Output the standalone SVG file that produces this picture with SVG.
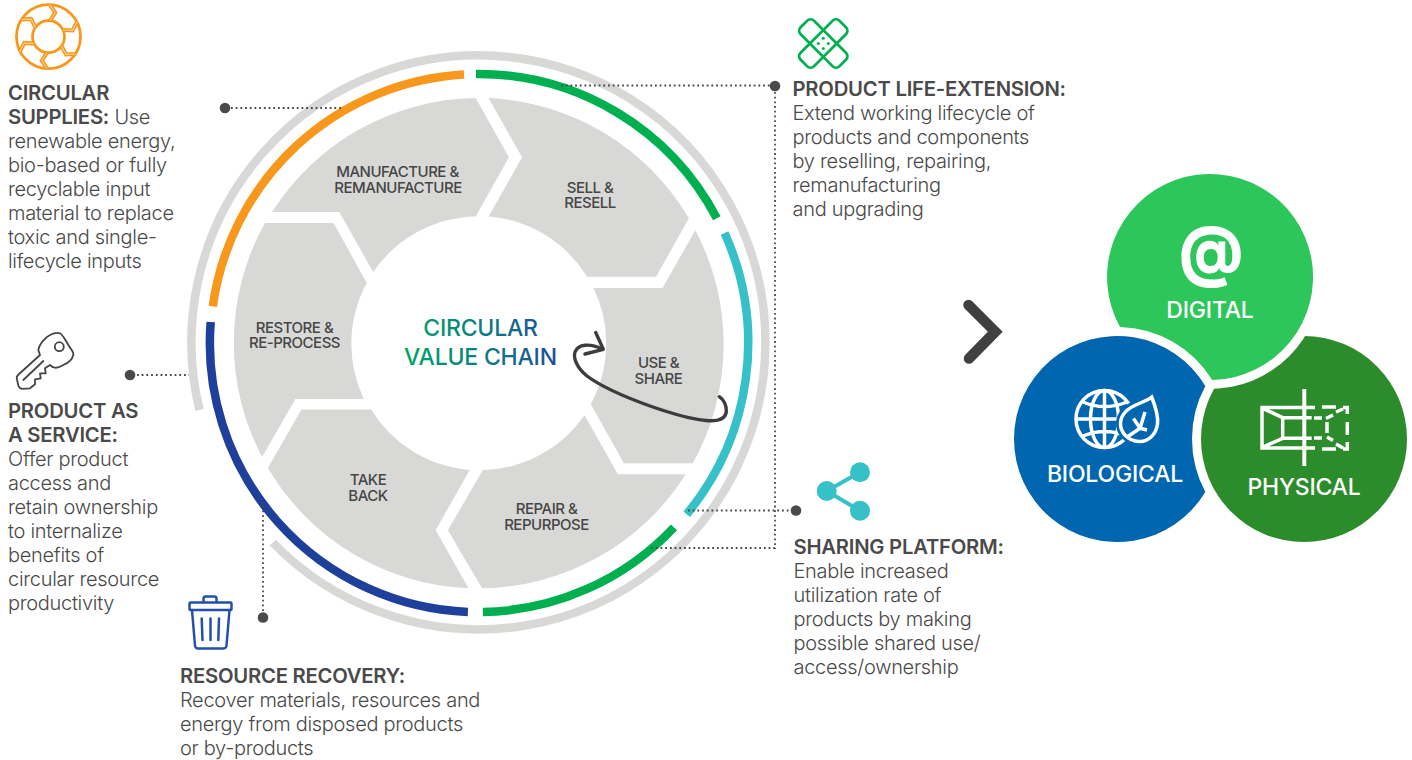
<svg xmlns="http://www.w3.org/2000/svg" width="1412" height="760" viewBox="0 0 1412 760">
<style>
text{font-family:"Inter","Liberation Sans",sans-serif;fill:#4a4a4a}
.b{font-size:20px;font-weight:300;letter-spacing:-.3px}
.h{font-weight:600;letter-spacing:-.25px;font-size:20.300px}
.s{font-size:15px;font-weight:500;text-anchor:middle;letter-spacing:-.48px;fill:#464646}
.seg{fill:#d8d8d6}
.ring{fill:none;stroke-width:8.5}
.dot{fill:none;stroke:#4a4a4a;stroke-width:1.8;stroke-dasharray:1.8 2.9}
.pt{fill:#4a4a4a}
.w{fill:#fff;font-size:23px;font-weight:500;text-anchor:middle;letter-spacing:-.2px}
.wl{fill:none;stroke:#fff;stroke-width:3.500}
.ic{fill:none;stroke-linejoin:round;stroke-linecap:round}
</style>
<defs>
<linearGradient id="cg" gradientUnits="userSpaceOnUse" x1="405" y1="0" x2="556" y2="0">
<stop offset="0" stop-color="#00a566"/><stop offset=".5" stop-color="#0b7f83"/><stop offset="1" stop-color="#1f4e9b"/>
</linearGradient>
<g id="chev"><path d="M1.500 -32 L6.700 -24 L1.500 -16" fill="none" stroke="#f7981d" stroke-width="4"/><path d="M1.500 -32 L6.700 -24 L1.500 -16" fill="none" stroke="#fcd9a5" stroke-width="1"/></g>
</defs>

<g id="rings">
<path class="ring" stroke="#d8d8d6" stroke-width="9" d="M199.500 410A287 287 0 1 1 272.800 542.600"/>
<path class="ring" stroke="#f7981d" d="M212.800 306.400A269 269 0 0 1 464 74.500"/>
<path class="ring" stroke="#00b050" d="M476 74A269 269 0 0 1 716.800 218.300"/>
<path class="ring" stroke="#36c0c7" d="M724.600 233A269 269 0 0 1 686.700 514.300"/>
<path class="ring" stroke="#00b050" d="M674 527.300A269 269 0 0 1 482.900 612"/>
<path class="ring" stroke="#1e3f9a" d="M467.900 612A269 269 0 0 1 210.700 322"/>
</g>

<g id="node-manufacture"><path class="seg" d="M272.100 212A245 245 0 0 1 475.700 98.100L508.900 157.300L475.700 216.500A127 127 0 0 0 373.200 272L339.300 212Z"/>
<text class="s"><tspan x="397.500" y="177">MANUFACTURE &amp;</tspan><tspan x="398" y="192.500">REMANUFACTURE</tspan></text></g>
<g id="node-sell"><path class="seg" d="M488.600 98.100A245 245 0 0 1 688.900 218.300L656 276.800L587.100 276.800A127 127 0 0 0 488.600 216.500L522.100 157.300Z"/>
<text class="s"><tspan x="590" y="192.500">SELL &amp;</tspan><tspan x="590" y="207.500">RESELL</tspan></text></g>
<g id="node-use"><path class="seg" d="M695.400 230.200A245 245 0 0 1 692.900 463.200L623.900 463.200L590.700 404A127 127 0 0 0 593.600 287.900L662.500 287.900Z"/>
<text class="s"><tspan x="658.500" y="368">USE &amp;</tspan><tspan x="658.500" y="383.500">SHARE</tspan></text></g>
<g id="node-repair"><path class="seg" d="M685.700 474.300A245 245 0 0 1 482.100 588.300L447.900 530.200L482.900 469.900A127 127 0 0 0 584.600 415.200L617.900 474.300Z"/>
<text class="s"><tspan x="546.500" y="513.500">REPAIR &amp;</tspan><tspan x="546.500" y="529.500">REPURPOSE</tspan></text></g>
<g id="node-takeback"><path class="seg" d="M468.600 588.300A245 245 0 0 1 267.900 468L301.400 409.600L371.100 409.600A127 127 0 0 0 469.600 469.900L435.700 530.200Z"/>
<text class="s"><tspan x="368" y="484.500">TAKE</tspan><tspan x="368" y="500.500">BACK</tspan></text></g>
<g id="node-restore"><path class="seg" d="M262.100 457A245 245 0 0 1 265 223.100L333.600 223.100L366.800 283.100A127 127 0 0 0 363.900 398.900L295.400 398.900Z"/>
<text class="s"><tspan x="294.500" y="332.500">RESTORE &amp;</tspan><tspan x="294.500" y="347.500">RE-PROCESS</tspan></text></g>

<g id="node-center">
<text x="480.500" y="336" text-anchor="middle" font-size="23" font-weight="500" letter-spacing="-.2" style="fill:url(#cg)">CIRCULAR</text>
<text x="480.500" y="365" text-anchor="middle" font-size="23" font-weight="500" letter-spacing="-.2" style="fill:url(#cg)">VALUE CHAIN</text>
</g>

<g id="connectors">
<path class="dot" d="M231 108H341"/><circle class="pt" cx="225" cy="108" r="5.300"/>
<path class="dot" d="M561 85.500H770M775 92V548H650"/><circle class="pt" cx="775" cy="86" r="5.300"/>
<path class="dot" d="M688 510.500H790"/><circle class="pt" cx="796" cy="510.500" r="5.300"/>
<path class="dot" d="M137 375H189"/><circle class="pt" cx="130" cy="375" r="5.300"/>
<path class="dot" d="M263 611V502"/><circle class="pt" cx="263" cy="617.500" r="5.300"/>
<g id="use-loop" class="ic" stroke="#3c3c3c" stroke-width="3.400">
<path d="M719.300 396.700C724 400 726.500 406 726.300 412C725 420 716 421.500 706 420.500C690 419 670 413 650 406C625 397 603 388 587 376C577 368 573 358 575 352C578 344 590 343 602 349"/>
<path d="M595.700 332.500L603.300 349.300L585 354"/>
</g>
</g>

<g id="node-supplies">
<g transform="translate(48.500 36.700)">
<circle class="ic" r="32" stroke="#f7981d" stroke-width="2.800"/><circle class="ic" r="16" stroke="#f7981d" stroke-width="2.800"/>
<use href="#chev"/><use href="#chev" transform="rotate(60)"/><use href="#chev" transform="rotate(120)"/><use href="#chev" transform="rotate(180)"/><use href="#chev" transform="rotate(240)"/><use href="#chev" transform="rotate(300)"/>
</g>
<text class="b" x="8" y="100"><tspan class="h">CIRCULAR</tspan></text>
<text class="b" x="8" y="124"><tspan class="h">SUPPLIES:</tspan> Use</text>
<text class="b" x="8" y="148">renewable energy,</text>
<text class="b" x="8" y="172">bio-based or fully</text>
<text class="b" x="8" y="196">recyclable input</text>
<text class="b" x="8" y="220">material to replace</text>
<text class="b" x="8" y="244">toxic and single-</text>
<text class="b" x="8" y="268">lifecycle inputs</text>
</g>

<g id="node-service">
<g class="ic" stroke="#444" stroke-width="1.800">
<path d="M40 355L38.300 350C39 345 44 338 50 335C54 333 57 332.500 60 333.300C63 334 67 344 71.700 350C73 352 73.800 353.500 73.300 355C72 360 67 363.500 63.300 365C60 367 57 368 55 367.700C53 367.500 51 366 50 365L45 368.300L45.700 373.300L40 373.300L40.700 378.300L35 379.300L35 384.300L30 388.300L22 388.800C20 388.500 19 387.500 18.300 385.500L16.700 378C16.500 377 17 376 18 375Z"/>
<circle cx="59.300" cy="346.700" r="4.500"/><path d="M43.300 361L23.300 380"/>
</g>
<text class="b" x="8" y="418"><tspan class="h">PRODUCT AS</tspan></text>
<text class="b" x="8" y="442"><tspan class="h">A SERVICE:</tspan></text>
<text class="b" x="8" y="466">Offer product</text>
<text class="b" x="8" y="490">access and</text>
<text class="b" x="8" y="514">retain ownership</text>
<text class="b" x="8" y="538">to internalize</text>
<text class="b" x="8" y="562">benefits of</text>
<text class="b" x="8" y="586">circular resource</text>
<text class="b" x="8" y="610">productivity</text>
</g>

<g id="node-recovery">
<g class="ic" stroke="#2350a8" stroke-width="2.500">
<rect x="189.500" y="602.500" width="42" height="7.500" rx="1"/>
<path d="M203.500 602V598.500C203.500 597 205 596.500 206 596.500H214C215.500 596.500 216.500 597 216.500 598.500V602"/>
<path d="M192 610L195 645.500C195.200 647.500 196.500 648.500 198 648.500H223.500C225 648.500 226.300 647.500 226.500 645.500L229.500 610"/>
<path d="M201.700 618.500L202.500 640M210.500 618.500V640M219 618.500L218.300 640"/>
</g>
<text class="b" x="180" y="683"><tspan class="h">RESOURCE RECOVERY:</tspan></text>
<text class="b" x="180" y="707">Recover materials, resources and</text>
<text class="b" x="180" y="731">energy from disposed products</text>
<text class="b" x="180" y="755">or by-products</text>
</g>

<g id="node-extension">
<g class="ic" stroke="#00b050" stroke-width="2.800">
<rect x="795.800" y="34" width="55" height="19" rx="5" transform="rotate(45 823.300 43.500)"/>
<rect x="795.800" y="34" width="55" height="19" rx="5" transform="rotate(-45 823.300 43.500)"/>
</g>
<g fill="#00b050"><circle cx="823.300" cy="38.300" r="1.500"/><circle cx="818.300" cy="43.500" r="1.500"/><circle cx="828.300" cy="43.500" r="1.500"/><circle cx="823.300" cy="48.500" r="1.500"/></g>
<text class="b" x="792.500" y="96"><tspan class="h">PRODUCT LIFE-EXTENSION:</tspan></text>
<text class="b" x="792.500" y="120">Extend working lifecycle of</text>
<text class="b" x="792.500" y="144">products and components</text>
<text class="b" x="792.500" y="168">by reselling, repairing,</text>
<text class="b" x="792.500" y="192">remanufacturing</text>
<text class="b" x="792.500" y="216">and upgrading</text>
</g>

<g id="node-sharing">
<path d="M860 472.300L826.700 491L860 510.700" fill="none" stroke="#36c0c7" stroke-width="4"/>
<g fill="#36c0c7"><circle cx="860" cy="472.300" r="10"/><circle cx="826.700" cy="491" r="10"/><circle cx="860" cy="510.700" r="10"/></g>
<text class="b" x="793.500" y="554"><tspan class="h">SHARING PLATFORM:</tspan></text>
<text class="b" x="793.500" y="578">Enable increased</text>
<text class="b" x="793.500" y="602">utilization rate of</text>
<text class="b" x="793.500" y="626">products by making</text>
<text class="b" x="793.500" y="650">possible shared use/</text>
<text class="b" x="793.500" y="674">access/ownership</text>
</g>

<path id="chevron" d="M968.500 305L995.300 331.700L969 358.500" fill="none" stroke="#404040" stroke-width="10.500" stroke-linecap="round"/>

<g id="node-physical">
<circle cx="1304" cy="439" r="103" fill="#2c8b2b"/>
<g class="wl" stroke-width="3.500">
<path d="M1315 407.500H1262V448H1315M1263 408.500L1282.700 417.700M1263 447L1282.700 438.300M1282.700 417.700V438.300M1282.700 417.700H1311.700M1282.700 438.300H1311.700"/>
<path d="M1304.300 389V466" stroke-width="4"/>
<path d="M1314 418H1322M1314 438H1322M1322 407H1336M1322 449H1336M1326 418.500L1333 415M1327 422V433M1327 437L1333 440.500M1336 412L1343 409M1336 444L1343 448M1343 407.500H1347.300V414M1347.300 422V435M1347.300 442V449H1343"/>
</g>
<text class="w" x="1304" y="495">PHYSICAL</text>
</g>
<circle cx="1210" cy="277" r="112" fill="#fff"/>
<g id="node-digital">
<path d="M1120 327A103 103 0 1 1 1212.200 380A112 112 0 0 0 1120 327Z" fill="#2dc65a"/>
<text transform="translate(1211 274) scale(.886 .930)" text-anchor="middle" font-size="70" font-weight="800" style="fill:#fff">@</text>
<text class="w" x="1210" y="317.500">DIGITAL</text>
</g>
<g id="node-biological">
<path d="M1205.330 386.020A103 103 0 1 0 1205.330 491.980A112 112 0 0 1 1205.330 386.020Z" fill="#0066b0"/>
<g class="wl" stroke-width="3">
<circle cx="1104.500" cy="419" r="28.500"/><ellipse cx="1104.500" cy="419" rx="14" ry="28.500"/><path d="M1104.500 390.500V447.500M1076 419H1133M1083 402C1097 408 1112 408 1127 402M1083 436C1097 430 1112 430 1127 436"/>
<path d="M1151.700 397C1156 408 1158.500 417 1157.500 424C1156 435 1148 442 1139 441.500C1128 441 1120 432 1120.500 423C1121 414 1128 408 1138 404C1143 402 1148 400 1151.700 397Z" fill="#0066b0" stroke="#0066b0" stroke-width="9"/>
<path d="M1151.700 397C1156 408 1158.500 417 1157.500 424C1156 435 1148 442 1139 441.500C1128 441 1120 432 1120.500 423C1121 414 1128 408 1138 404C1143 402 1148 400 1151.700 397Z"/>
<path d="M1127 437L1140 428.300L1145 412M1133.500 418.500L1140 428.300L1147 430"/>
</g>
<text class="w" x="1115" y="482">BIOLOGICAL</text>
</g>
</svg>
